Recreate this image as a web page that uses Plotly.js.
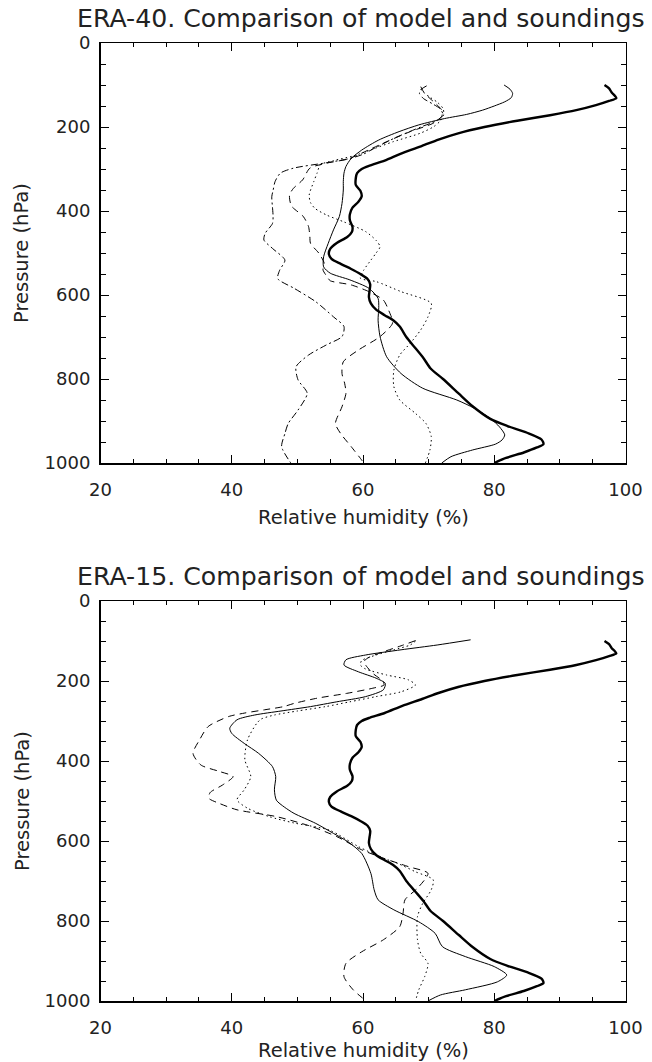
<!DOCTYPE html>
<html>
<head>
<meta charset="utf-8">
<script src="https://cdn.plot.ly/plotly-3.0.1.min.js"></script>
<style>html,body{margin:0;padding:0;background:#fff;}#chart{width:652px;height:1062px;}</style>
</head>
<body>
<div id="chart"></div>
<script>
// ---------- data (pressure in hPa, relative humidity in %) ----------
// Soundings (bold line, identical in both panels)
const soundP  = [100,108,118,126,131,138,148,160,172,185,200,215,230,245,262,280,292,300,310,322,338,352,365,378,392,408,422,438,450,462,476,490,502,514,526,538,550,562,575,590,605,620,635,648,660,675,700,725,750,775,800,835,865,895,912,928,944,955,963,975,988,1000];
const soundRH = [96.8,97.5,97.9,98.4,98.6,97.5,95.5,92.5,88.5,83.5,78.5,74.5,71.5,69.0,66.0,63.3,61.0,59.8,59.1,58.9,58.9,59.6,59.8,59.3,58.4,58.0,58.0,58.4,58.3,57.6,56.0,55.0,54.8,55.2,56.6,58.2,59.6,60.7,61.1,61.0,60.9,61.2,62.0,63.3,64.6,65.6,66.6,67.9,69.2,70.3,72.2,74.6,76.7,79.4,82.0,85.0,87.2,87.5,86.5,84.5,81.8,80.0];

// ERA-40 panel
const e40SolidP  = [100,110,120,130,140,150,160,170,180,195,211,231,255,275,294,310,330,350,382,413,445,477,509,533,548,564,584,608,630,660,699,747,787,822,850,870,895,914,933,945,955,969,985,1000];
const e40SolidRH = [81.5,82.4,82.8,82.6,81.6,80.0,78.2,75.8,72.4,68.5,65.5,62.4,59.8,58.2,57.4,57.1,57.0,57.0,56.8,56.4,55.5,54.7,54.0,54.0,55.0,58.0,60.9,62.3,62.4,62.3,62.6,63.6,65.8,69.1,74.3,77.0,79.5,80.8,81.6,81.2,80.2,76.7,73.4,72.0];
const e40DashP   = [104,118,132,146,160,175,191,211,235,255,268,276,286,298,326,346,362,388,413,437,460,477,501,525,540,558,566,576,592,612,636,667,699,731,759,787,810,834,866,906,930,961,993,1000];
const e40DashRH  = [68.8,69.3,70.2,71.2,72.0,72.0,70.7,67.2,63.6,60.8,59.0,57.8,54.5,51.9,50.8,49.4,48.8,49.1,50.9,51.7,51.9,52.0,53.3,54.1,53.9,54.6,55.0,58.2,60.9,63.1,63.9,64.5,62.6,59.3,57.0,56.8,57.2,57.4,56.8,55.8,56.6,58.2,59.8,60.1];
const e40DotP    = [110,120,130,142,156,170,185,199,215,235,255,269,280,290,310,330,362,380,394,410,426,449,470,485,500,517,541,560,568,592,620,652,683,715,743,779,818,850,882,906,937,969,1000];
const e40DotRH   = [68.8,69.4,70.3,71.4,72.2,72.3,71.8,70.8,68.7,64.6,61.1,58.5,55.5,53.5,53.0,52.5,51.8,52.0,52.7,54.5,57.1,60.4,62.0,62.6,62.0,61.2,60.1,59.6,62.0,65.8,70.4,69.9,68.8,67.2,65.6,64.7,64.7,65.6,68.0,69.6,70.4,70.2,69.5];
const e40DashDotP  = [102,110,120,132,144,156,171,185,200,225,250,265,275,285,298,310,330,351,366,390,413,430,453,469,489,517,541,561,584,616,652,675,699,719,743,771,802,834,874,906,930,961,1000];
const e40DashDotRH = [69.7,68.9,68.6,69.2,70.5,71.7,72.2,71.2,68.8,65.0,61.8,60.0,58.0,54.5,49.4,47.4,46.6,46.3,46.1,46.2,46.3,46.2,45.1,44.9,46.2,48.1,47.3,47.0,49.5,52.8,55.5,57.1,56.8,54.4,51.7,49.8,50.1,51.5,50.1,48.6,48.1,47.6,49.0];

// ERA-15 panel
const e15SolidP  = [97,110,122,135,147,160,177,193,206,222,239,252,264,275,285,297,318,331,356,381,414,439,472,498,515,531,556,581,602,631,681,722,747,772,802,831,864,889,914,935,952,972,985,1000];
const e15SolidRH = [76.4,71.3,65.8,60.4,57.4,57.1,59.3,62.0,63.4,63.1,60.4,56.0,52.0,47.5,43.5,40.8,39.7,40.0,41.9,44.1,46.2,46.7,46.5,46.8,48.0,49.5,52.8,55.5,57.7,59.8,61.2,61.7,62.3,64.7,68.5,71.0,72.1,75.6,80.0,81.9,80.5,75.6,71.8,69.9];
const e15DashP   = [99,112,127,141,150,160,181,200,210,218,231,243,256,264,272,280,289,314,347,381,410,426,439,460,479,493,506,522,539,564,589,622,643,664,681,718,747,781,814,847,877,906,939,972,1000];
const e15DashRH  = [68.0,65.8,63.1,60.9,60.2,60.4,61.5,63.0,63.2,61.5,57.5,53.0,49.5,47.9,45.0,42.0,39.5,36.4,35.1,34.1,35.3,38.1,40.2,38.6,36.7,36.5,38.1,40.8,46.8,52.2,56.0,59.8,63.1,66.9,69.9,68.3,66.4,66.1,65.6,63.1,59.8,57.4,57.1,58.5,60.5];
const e15DotP    = [100,110,122,135,149,160,170,185,197,210,227,239,252,264,275,285,295,306,347,397,439,472,497,518,539,555,573,614,643,656,677,697,722,756,789,847,881,906,939,972,1000];
const e15DotRH   = [68.0,67.2,64.7,62.0,59.8,59.6,60.4,63.6,66.9,68.0,65.8,62.0,58.0,54.3,50.0,46.5,44.5,43.8,42.4,42.0,42.9,41.9,40.8,42.4,45.7,49.5,54.9,59.3,63.1,65.3,68.0,70.7,70.4,69.1,68.3,68.3,68.8,69.9,69.4,68.5,68.0];

// ---------- text ----------
const titles = ['ERA-40. Comparison of model and soundings', 'ERA-15. Comparison of model and soundings'];
const xTitle = 'Relative humidity (%)';
const yTitle = 'Pressure (hPa)';
const xTicks = [20, 40, 60, 80, 100];
const yTicks = [0, 200, 400, 600, 800, 1000];

// ---------- traces ----------
const FONT = 'DejaVu Sans';
function tr(xs, ys, ax, width, dash) {
  return {x: xs, y: ys, xaxis: ax[0], yaxis: ax[1], type: 'scatter', mode: 'lines',
          line: {color: '#000', width: width, dash: dash, shape: 'spline', smoothing: 0.7},
          hoverinfo: 'skip'};
}
const A1 = ['x', 'y'], A2 = ['x2', 'y2'];
const data = [
  tr(e40DashDotRH, e40DashDotP, A1, 1, '7px,3px,2px,3px'),
  tr(e40DashRH, e40DashP, A1, 1, '7px,5px'),
  tr(e40DotRH, e40DotP, A1, 1, '1.5px,3px'),
  tr(e40SolidRH, e40SolidP, A1, 1, 'solid'),
  tr(soundRH, soundP, A1, 2.4, 'solid'),
  tr(e15DashRH, e15DashP, A2, 1, '7px,5px'),
  tr(e15DotRH, e15DotP, A2, 1, '1.5px,3px'),
  tr(e15SolidRH, e15SolidP, A2, 1, 'solid'),
  tr(soundRH, soundP, A2, 2.4, 'solid')
];

// ---------- layout ----------
const W = 652, H = 1062;
const px = v => v / W, py = v => 1 - v / H;
const xDom = [px(100.5), px(625.5)];
function xa(anchor) {
  return {domain: xDom, anchor: anchor, range: [20, 100], tickmode: 'array', tickvals: xTicks,
          ticktext: xTicks.map(String), showline: true, linecolor: '#000', linewidth: 1.5,
          mirror: 'allticks', ticks: 'inside', ticklen: 8, tickwidth: 1, tickcolor: '#000',
          showgrid: false, zeroline: false, ticklabelstandoff: 10,
          tickfont: {family: FONT, size: 18, color: '#222'},
          minor: {dtick: 5, tick0: 20, ticks: 'inside', ticklen: 4, tickwidth: 1, tickcolor: '#000', showgrid: false}};
}
function ya(anchor, dom) {
  return {domain: dom, anchor: anchor, range: [1000, 0], tickmode: 'array', tickvals: yTicks,
          ticktext: yTicks.map(String), showline: true, linecolor: '#000', linewidth: 1.5,
          mirror: 'allticks', ticks: 'inside', ticklen: 8, tickwidth: 1, tickcolor: '#000',
          showgrid: false, zeroline: false, ticklabelstandoff: 5,
          tickfont: {family: FONT, size: 18, color: '#222'},
          minor: {dtick: 50, tick0: 0, ticks: 'inside', ticklen: 5, tickwidth: 1, tickcolor: '#000', showgrid: false}};
}
function ann(text, xp, yp, size, angle) {
  return {text: text, xref: 'paper', yref: 'paper', x: px(xp), y: py(yp), xanchor: 'center', yanchor: 'middle',
          showarrow: false, textangle: angle || 0, font: {family: FONT, size: size, color: '#222'}};
}
const layout = {
  width: W, height: H, margin: {l: 0, r: 0, t: 0, b: 0}, showlegend: false,
  paper_bgcolor: '#fff', plot_bgcolor: '#fff',
  xaxis: xa('y'), yaxis: ya('x', [py(463), py(43)]),
  xaxis2: xa('y2'), yaxis2: ya('x2', [py(1001), py(601)]),
  annotations: [
    ann(titles[0], 361, 19, 25.2),
    ann(titles[1], 361, 576, 25.2),
    ann(xTitle, 363, 517, 19.5),
    ann(xTitle, 363, 1050, 19.5),
    ann(yTitle, 22, 253, 19.5, -90),
    ann(yTitle, 22, 801, 19.5, -90)
  ]
};
Plotly.newPlot('chart', data, layout, {staticPlot: true, displayModeBar: false});
</script>
</body>
</html>
